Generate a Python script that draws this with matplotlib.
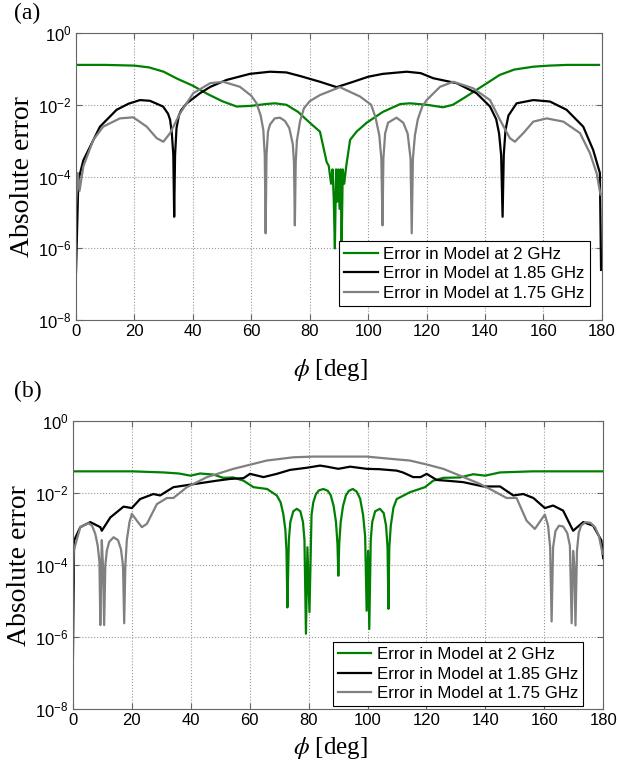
import matplotlib
matplotlib.use("Agg")
import matplotlib.pyplot as plt
import numpy as np

plt.rcParams['font.family'] = ['Liberation Sans', 'DejaVu Sans']
plt.rcParams['mathtext.fontset'] = 'stix'

labels = ["Error in Model at 2 GHz", "Error in Model at 1.85 GHz", "Error in Model at 1.75 GHz"]
colors = ["#008000", "#000000", "#808080"]

# panel (a): phi [deg] and log10(absolute error)
a_green_phi = [0, 10, 20, 25, 30, 34.5, 40, 45, 50, 55, 60, 65, 68, 72, 76, 80, 83.5, 85.8, 86.5,
               87.3, 87.8, 88.2, 88.6, 89.0, 89.4, 89.8, 90.2, 90.6, 90.9, 91.3, 91.8, 92.5, 93.8,
               96, 99.5, 105, 111, 114.3, 120, 125.6, 129, 133, 137, 141, 145, 150, 156.5, 162, 168, 179]
a_green_err = [-0.89, -0.89, -0.91, -0.96, -1.08, -1.27, -1.47, -1.70, -1.90, -2.05, -2.03, -1.98, -1.96,
               -2.0, -2.2, -2.5, -2.75, -3.6, -3.7, -4.2, -3.8, -4.6, -6.0, -3.8, -4.7, -3.8, -4.9, -3.8,
               -6.0, -3.8, -4.2, -3.7, -2.98, -2.75, -2.5, -2.2, -1.98, -1.96, -2.0, -2.07, -2.0, -1.8,
               -1.59, -1.38, -1.17, -1.02, -0.94, -0.91, -0.89, -0.89]

a_black_phi = [0, 0.8, 2.5, 4.8, 8.2, 13.9, 18, 21.9, 25.3, 29.8, 31.5, 32.2, 32.8, 33.3, 33.6, 33.9,
               34.4, 35.2, 36, 37.9, 42.4, 46, 51.5, 59.5, 66.4, 72, 76.7, 83.5, 89.2, 94.9, 100, 105,
               113.2, 118, 122.2, 130.3, 137.1, 141.7, 143.8, 144.8, 145.5, 146, 146.4, 147, 148,
               150.8, 156.5, 162.2, 167.9, 173.6, 177, 179.3, 179.7]
a_black_err = [-6.65, -4.1, -3.55, -3.17, -2.61, -2.14, -1.97, -1.87, -1.89, -2.05, -2.25, -2.42, -2.8,
               -3.4, -5.12, -3.4, -2.65, -2.3, -2.15, -1.96, -1.68, -1.5, -1.31, -1.14, -1.08, -1.1,
               -1.2, -1.36, -1.51, -1.36, -1.22, -1.14, -1.08, -1.12, -1.26, -1.40, -1.68, -2.05,
               -2.4, -2.8, -3.4, -5.12, -3.4, -2.7, -2.3, -1.96, -1.87, -1.91, -2.14, -2.61, -3.26,
               -3.9, -6.6]

a_gray_phi = [0, 0.6, 1.2, 2.5, 5.9, 9.3, 15, 19.6, 24.2, 27.6, 29.9, 32.2, 35.6, 40.1, 45.9, 50.4,
              56.1, 60, 61.8, 63.2, 64.1, 64.6, 64.9, 65.2, 65.7, 66.4, 68, 69.8, 71.5, 73, 74.2, 74.6,
              74.9, 75.2, 75.6, 76.7, 78, 80, 83.5, 90.3, 97.2, 101, 102.5, 103.8, 104.5, 104.9,
              105.2, 105.8, 106.8, 109.7, 112, 113.5, 114.5, 114.9, 115.3, 116, 117, 118.5, 120,
              124.6, 129.1, 135.9, 141.7, 145.1, 148.5, 150.2, 153.1, 156.5, 161.1, 166.8, 172.5,
              175.9, 178.2, 179.5]
a_gray_err = [-4.8, -3.9, -4.4, -3.72, -2.98, -2.61, -2.38, -2.35, -2.61, -2.93, -3.03, -2.79, -2.24,
              -1.68, -1.40, -1.36, -1.5, -1.75, -1.96, -2.3, -2.7, -3.4, -5.58, -3.4, -2.75, -2.55,
              -2.38, -2.36, -2.45, -2.65, -3.1, -3.6, -5.36, -3.6, -3.0, -2.45, -2.1, -1.9, -1.73,
              -1.51, -1.77, -2.0, -2.35, -2.85, -3.5, -5.36, -3.5, -2.8, -2.5, -2.36, -2.5, -2.8,
              -3.5, -5.58, -3.5, -2.85, -2.4, -2.05, -1.87, -1.5, -1.36, -1.54, -1.87, -2.42, -2.93,
              -3.03, -2.79, -2.47, -2.38, -2.47, -2.79, -3.35, -3.91, -4.5]

# panel (b)
b_green_phi = [0, 10, 20, 30.7, 36, 39.9, 43.2, 47.7, 51, 54.4, 57.9, 61.3, 65.9, 69.2, 70.5, 71.4,
               72.1, 72.5, 72.8, 73.3, 73.8, 74.8, 76, 77.2, 78.1, 78.6, 79.1, 79.6, 80.3, 81, 81.6,
               82.5, 83.5, 85, 86.5, 87.5, 88.5, 89.3, 89.8, 90.1, 90.4, 90.9, 91.7, 92.7, 93.7, 95,
               96.3, 97.5, 98.5, 99.2, 99.7, 100.2, 100.6, 101.1, 101.6, 102.6, 104.2, 105.5, 106.3,
               106.8, 107.1, 107.4, 107.9, 108.8, 109.9, 114.4, 119.5, 122.3, 125.7, 131.4, 135.9,
               139.9, 145, 156.1, 170, 180]
b_green_err = [-1.39, -1.39, -1.39, -1.42, -1.45, -1.51, -1.45, -1.48, -1.57, -1.56, -1.65, -1.83,
               -1.88, -2.06, -2.25, -2.57, -3.0, -3.6, -5.17, -3.3, -2.8, -2.5, -2.43, -2.5, -2.8,
               -3.3, -5.9, -3.5, -5.3, -2.6, -2.25, -2.02, -1.92, -1.88, -1.93, -2.05, -2.35, -2.8,
               -3.4, -4.29, -3.4, -2.8, -2.35, -2.05, -1.93, -1.88, -1.95, -2.15, -2.6, -3.2, -5.26,
               -3.6, -5.77, -3.3, -2.8, -2.5, -2.43, -2.55, -2.9, -3.5, -5.21, -3.5, -2.9, -2.4, -2.16,
               -1.97, -1.83, -1.65, -1.57, -1.56, -1.47, -1.51, -1.42, -1.39, -1.39, -1.39]

b_black_phi = [0, 0.4, 2.5, 5.9, 9.3, 9.8, 12.7, 17.2, 20, 22.8, 27.3, 29.6, 34.1, 39.8, 48.8, 53.4,
               57.9, 60.1, 64.7, 69.2, 73.7, 79.4, 83.9, 86.2, 90.1, 94.1, 99.7, 104, 109.9, 112,
               115.5, 118, 120.1, 123.5, 126.9, 132.5, 139.3, 145, 149.5, 152.9, 156.3, 160.2, 163,
               166.4, 169.8, 173.2, 176.6, 179.4, 180]
b_black_err = [-6.6, -3.31, -2.94, -2.8, -2.94, -3.04, -2.67, -2.37, -2.41, -2.16, -2.02, -2.06, -1.83,
               -1.76, -1.65, -1.6, -1.58, -1.46, -1.55, -1.46, -1.35, -1.29, -1.23, -1.26, -1.32,
               -1.26, -1.32, -1.33, -1.37, -1.42, -1.55, -1.55, -1.46, -1.63, -1.65, -1.69, -1.81,
               -1.81, -2.06, -2.02, -2.13, -2.41, -2.34, -2.48, -3.04, -2.8, -2.9, -3.31, -3.8]

b_gray_phi = [0, 0.3, 2.5, 5.3, 6.5, 7.6, 8.4, 9.0, 9.3, 9.8, 10.2, 10.6, 11.0, 11.5, 12.3, 13.8, 15.3,
              16.3, 17.0, 17.4, 17.8, 18.3, 19.2, 20, 21.7, 23.4, 25.1, 28.5, 31.9, 34.1, 38.7, 45.5,
              54.5, 65.8, 74.8, 81.6, 88.4, 99.7, 108.8, 114.4, 120.1, 125.7, 131.4, 138.2, 142.7,
              147.2, 150.6, 154, 156.8, 160.2, 161.3, 162.0, 162.5, 163.0, 163.8, 165, 166.4, 167.8,
              168.7, 169.3, 169.8, 170.2, 170.6, 171.1, 171.7, 172.5, 174, 175.7, 177.3, 178.6, 179.8]
b_gray_err = [-4.4, -3.59, -2.94, -2.83, -2.9, -3.13, -3.45, -3.9, -5.66, -3.3, -4.0, -5.66, -4.0,
              -3.6, -3.35, -3.22, -3.3, -3.55, -4.0, -5.61, -4.0, -3.3, -2.8, -2.57, -2.76, -2.94,
              -2.85, -2.3, -2.13, -2.13, -1.83, -1.55, -1.32, -1.09, -1.0, -0.98, -0.98, -0.98, -1.05,
              -1.09, -1.2, -1.32, -1.51, -1.74, -1.93, -2.13, -2.13, -2.76, -2.99, -2.59, -2.9, -3.5,
              -5.56, -3.5, -3.05, -2.9, -2.92, -3.1, -3.45, -5.61, -3.6, -4.0, -5.67, -3.6, -3.1, -2.9,
              -2.8, -2.82, -2.95, -3.2, -3.68]

panels = [
    ([0.123, 0.582, 0.851, 0.375], "(a)", 0.975,
     [(a_green_phi, a_green_err), (a_black_phi, a_black_err), (a_gray_phi, a_gray_err)],
     (0.977, 0.049), 0.517),
    ([0.118, 0.074, 0.858, 0.376], "(b)", 0.482,
     [(b_green_phi, b_green_err), (b_black_phi, b_black_err), (b_gray_phi, b_gray_err)],
     (0.962, 0.01), 0.024),
]

fig = plt.figure(figsize=(6.18, 7.66), dpi=100)
for rect, tag, tag_y, series, leg_anchor, xlab_y in panels:
    ax = fig.add_axes(rect)
    for (phi, err), c, lab in zip(series, colors, labels):
        ax.plot(phi, 10.0 ** np.array(err), color=c, lw=1.6, label=lab)
    ax.set_yscale('log')
    ax.set_xlim(0, 180)
    ax.set_ylim(1e-8, 1e0)
    ax.set_xticks(np.arange(0, 181, 20))
    ax.set_yticks([1e-8, 1e-6, 1e-4, 1e-2, 1e0])
    ax.yaxis.set_minor_locator(matplotlib.ticker.NullLocator())
    ax.tick_params(direction='in', top=True, right=True, labelsize=12, length=4,
                   color='#666666', pad=3)
    for s in ax.spines.values():
        s.set_color('#666666')
    ax.grid(True, linestyle=':', color='#999999', lw=0.8)
    ax.set_ylabel("Absolute error", family=['Liberation Serif'], fontsize=20, labelpad=2)
    leg = ax.legend(loc='lower right', bbox_to_anchor=leg_anchor, fontsize=12.2,
                    fancybox=False, framealpha=1, edgecolor='black', borderpad=0.3,
                    labelspacing=0.28, handlelength=2.0, handletextpad=0.3, borderaxespad=0)
    leg.get_frame().set_linewidth(0.8)
    fig.text(0.022, tag_y, tag, family=['Liberation Serif'], fontsize=17)
    fig.text(0.535, xlab_y, r"$\phi$ [deg]", family=['Liberation Serif'], fontsize=18,
             ha='center', va='center')

fig.savefig("out.png", dpi=100)
